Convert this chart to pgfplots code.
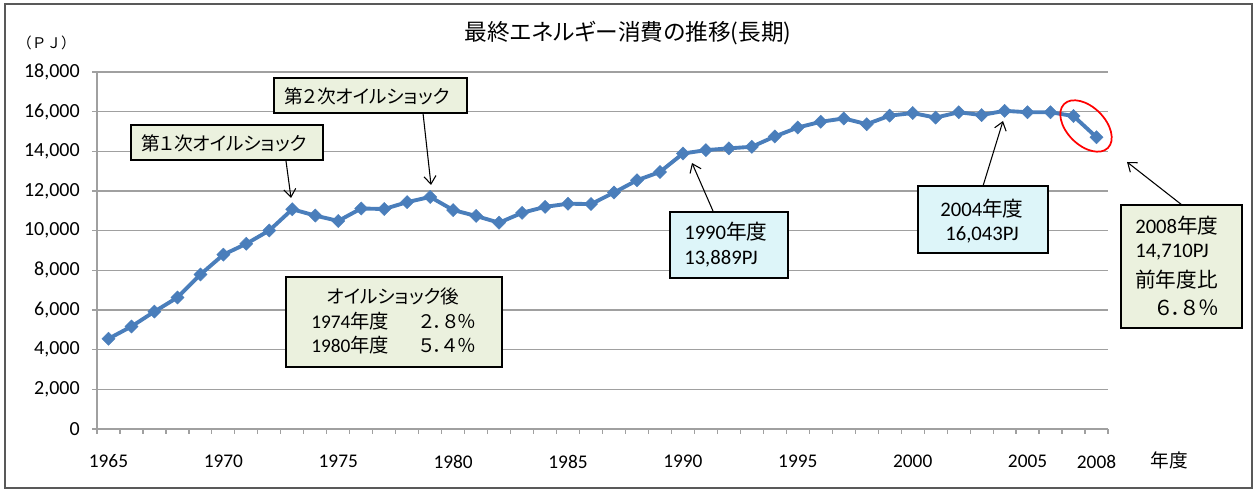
\documentclass[border=0pt]{standalone}
\usepackage{pgfplots}
\pgfplotsset{compat=1.18}
\usepackage{pgfplotstable}
\usepackage{fontspec}
\usetikzlibrary{arrows.meta}
\setmainfont{Carlito}
\newfontfamily\jp{Noto Sans CJK JP}[CharacterWidth=AlternateProportional]
\newfontfamily\jpf{Noto Sans CJK JP}
\newcommand{\J}[1]{{\jp #1}}
\definecolor{lineblue}{HTML}{4A7EBB}
\definecolor{boxgreen}{HTML}{EBF1DE}
\definecolor{boxcyan}{HTML}{DDF5F9}
\definecolor{gridgray}{HTML}{A0A0A0}
\pgfplotstableread{
year value
1965 4550
1966 5170
1967 5920
1968 6630
1969 7790
1970 8790
1971 9340
1972 10010
1973 11080
1974 10760
1975 10490
1976 11120
1977 11090
1978 11440
1979 11700
1980 11040
1981 10740
1982 10400
1983 10900
1984 11200
1985 11360
1986 11340
1987 11920
1988 12540
1989 12960
1990 13889
1991 14060
1992 14150
1993 14230
1994 14750
1995 15200
1996 15490
1997 15660
1998 15370
1999 15800
2000 15930
2001 15700
2002 15970
2003 15830
2004 16043
2005 15970
2006 15970
2007 15780
2008 14710
}\datatable
\begin{document}
\begin{tikzpicture}
\useasboundingbox (0,0) rectangle (942.75pt,369pt);
\begin{axis}[
  at={(72.75pt,47.25pt)}, anchor=south west,
  scale only axis, width=758.25pt, height=267.75pt,
  xmin=1964.5, xmax=2008.5, ymin=0, ymax=18000,
  axis x line=bottom, axis y line=left,
  axis line style={-, draw=gridgray, line width=1.1pt},
  xtick={1965,1970,1975,1980,1985,1990,1995,2000,2005,2008},
  minor xtick={1964.5,1965.5,...,2008.5},
  ytick={0,2000,...,18000},
  ymajorgrids, grid style={gridgray, line width=1.1pt},
  major x tick style={draw=none},
  minor x tick style={draw=gridgray, line width=0.9pt},
  major y tick style={draw=gridgray, line width=0.9pt},
  tick align=outside, major tick length=3.75pt, minor tick length=3.75pt,
  /pgf/number format/assume math mode=true,
  scaled y ticks=false,
  xticklabel style={font=\fontsize{14.5}{16}\selectfont, anchor=north, inner sep=0pt, yshift=-15.5pt, /pgf/number format/1000 sep={}},
  yticklabel style={font=\fontsize{15}{17}\selectfont, anchor=east, inner sep=0pt, xshift=-9pt, /pgf/number format/1000 sep={,}},
  clip=false,
]
\addplot[color=lineblue, line width=2.9pt, mark=square*, mark size=3.5pt,
  mark options={solid, rotate=45, line width=0.3pt, fill=lineblue, draw=lineblue}]
  table[x=year, y=value] {\datatable};
\end{axis}
\begin{scope}[x=0.75pt, y=-0.75pt, yshift=369pt]
  % outer frame
  \draw[black!65, line width=1.1pt] (5,4) rectangle (1252,488);
  % title
  \node at (628,33) {\fontsize{17}{19}\selectfont\jp 最終エネルギー消費の推移(長期)};
  \node at (46.5,42.5) {\fontsize{11}{13}\selectfont\jpf （ＰＪ）};
  \node at (1169,460) {\fontsize{14}{16}\selectfont\jp 年度};
  % red ellipse
  \draw[red, line width=1.3pt, rotate around={-45:(1086,126)}] (1086,126) ellipse [x radius=31, y radius=19];
  % arrows
  \begin{scope}[line width=0.8pt, -{Straight Barb[length=6pt,width=9pt]}]
    \draw (286,161) -- (291,198);
    \draw (423,113) -- (431,185);
    \draw (713,211) -- (692,163);
    \draw (983,186) -- (1003,121);
    \draw (1182,205) -- (1127,162);
  \end{scope}
  % box 1
  \draw[fill=boxgreen, line width=0.9pt] (131,125) rectangle (323,160);
  \node at (224,143) {\fontsize{14}{16}\selectfont\jp 第１次オイルショック};
  % box 2
  \draw[fill=boxgreen, line width=0.9pt] (274,78) rectangle (467,113);
  \node at (367,96) {\fontsize{14}{16}\selectfont\jp 第２次オイルショック};
  % box 3
  \draw[fill=boxgreen, line width=0.9pt] (286,277) rectangle (502,367);
  \node at (393,296) {\fontsize{14}{16}\selectfont\jp オイルショック後};
  \node[anchor=west, inner sep=0pt] at (311,321.5) {\fontsize{14.5}{16}\selectfont 1974\J{年度}};
  \node[anchor=west, inner sep=0pt] at (311,345.5) {\fontsize{14.5}{16}\selectfont 1980\J{年度}};
  \node at (448,321.5) {\fontsize{14}{16}\selectfont\jp ２．８％};
  \node at (448,345.5) {\fontsize{14}{16}\selectfont\jp ５．４％};
  % box 4
  \draw[fill=boxcyan, line width=0.9pt] (670,212) rectangle (788,278);
  \node[anchor=west, inner sep=0pt] at (684,232) {\fontsize{15.5}{18}\selectfont 1990\J{年度}};
  \node[anchor=west, inner sep=0pt] at (684,259) {\fontsize{15.5}{18}\selectfont 13,889PJ};
  % box 5
  \draw[fill=boxcyan, line width=0.9pt] (918,186) rectangle (1048,253);
  \node at (982,208.5) {\fontsize{15.5}{18}\selectfont 2004\J{年度}};
  \node at (982,234.5) {\fontsize{15.5}{18}\selectfont 16,043PJ};
  % box 6
  \draw[fill=boxgreen, line width=0.9pt] (1121,205) rectangle (1242,328);
  \node[anchor=west, inner sep=0pt] at (1135,226) {\fontsize{15.5}{18}\selectfont 2008\J{年度}};
  \node[anchor=west, inner sep=0pt] at (1135,252.5) {\fontsize{15.5}{18}\selectfont 14,710PJ};
  \node[anchor=west, inner sep=0pt] at (1135,280) {\fontsize{15.5}{18}\selectfont\jp 前年度比};
  \node[anchor=west, inner sep=0pt] at (1156,307.5) {\fontsize{15.5}{18}\selectfont\jp ６．８％};
\end{scope}
\end{tikzpicture}
\end{document}
